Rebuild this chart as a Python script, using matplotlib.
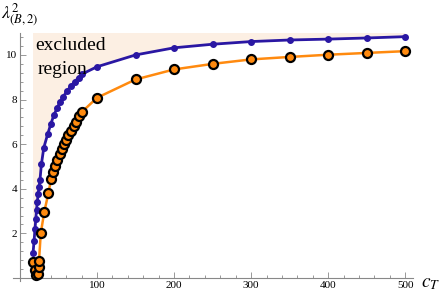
import numpy as np
import matplotlib
matplotlib.use('Agg')
import matplotlib.pyplot as plt
from matplotlib.ticker import MultipleLocator

# data
blue_c = [17.0, 18.3, 19.5, 20.6, 21.5, 22.5, 23.6, 24.7, 26.0, 27.8, 31.0, 36.0,
          40.0, 44.0, 48.0, 52.0, 56.0, 61.0, 66.0, 71.0, 76.0, 81.0,
          100, 150, 200, 250, 300, 350, 400, 450, 500]
blue_y = [1.12, 1.65, 2.18, 2.66, 3.04, 3.40, 3.76, 4.08, 4.40, 5.09, 5.85, 6.45,
          6.90, 7.30, 7.60, 7.90, 8.12, 8.38, 8.60, 8.80, 8.98, 9.15,
          9.47, 10.0, 10.32, 10.48, 10.60, 10.67, 10.71, 10.76, 10.82]

orange_c = [17.5, 19.0, 20.5, 23.0, 24.5, 24.7, 27.0, 31.5, 37.0, 40.5, 43.0, 45.8,
            48.5, 51.5, 54.5, 57.0, 60.0, 63.0, 66.5, 70.0, 73.0, 77.0, 80.5,
            100, 150, 200, 250, 300, 350, 400, 450, 500]
orange_y = [0.70, 0.35, 0.15, 0.20, 0.50, 0.75, 2.00, 2.95, 3.82, 4.45, 4.75, 5.00,
            5.30, 5.55, 5.80, 6.00, 6.20, 6.40, 6.60, 6.80, 7.00, 7.25, 7.45,
            8.08, 8.90, 9.35, 9.60, 9.80, 9.91, 10.01, 10.09, 10.17]

y_top = 11.0

plt.rcParams['font.family'] = 'Liberation Serif'
plt.rcParams['mathtext.fontset'] = 'stix'

fig = plt.figure(figsize=(4.41, 2.94), dpi=100)
ax = fig.add_axes([0.0295, 0.043, 0.907, 0.846])

# excluded region: above/left of the blue curve
shade_x = np.concatenate([blue_c, [blue_c[-1], blue_c[0]]])
shade_y = np.concatenate([blue_y, [y_top, y_top]])
ax.fill(shade_x, shade_y, color='#fcefe3', lw=0, zorder=0)

ax.plot(blue_c, blue_y, '-o', color='#2a17a3', lw=2, ms=4, zorder=3)
ax.plot(orange_c, orange_y, '-o', color='#ff8a0f', lw=1.8, ms=6.5,
        mec='black', mew=1.6, zorder=4)

ax.text(19.5, 10.8, 'excluded', fontsize=14, va='top', ha='left', zorder=5)
ax.text(23.5, 9.75, 'region', fontsize=14, va='top', ha='left', zorder=5)

ax.set_xlim(-9, 510)
ax.set_ylim(-0.15, y_top)

for s in ['top', 'right']:
    ax.spines[s].set_visible(False)
ax.spines['left'].set_position(('data', 0))
ax.spines['bottom'].set_position(('data', 0))
for s in ['left', 'bottom']:
    ax.spines[s].set_color('#888888')
    ax.spines[s].set_linewidth(0.8)

ax.set_xticks([100, 200, 300, 400, 500])
ax.set_yticks([2, 4, 6, 8, 10])
ax.xaxis.set_minor_locator(MultipleLocator(20))
ax.yaxis.set_minor_locator(MultipleLocator(0.4))
ax.tick_params(which='both', direction='in', color='#888888', width=0.6,
               labelsize=8, pad=2)
ax.tick_params(which='major', length=4)
ax.tick_params(which='minor', length=2)
ax.patch.set_alpha(0)

fig.text(0.002, 0.995, r'$\lambda^2_{(B,2)}$', fontsize=13, va='top', ha='left')
fig.text(0.955, 0.035, r'$c_T$', fontsize=14, va='center', ha='left')

fig.savefig('out.png', dpi=100)
